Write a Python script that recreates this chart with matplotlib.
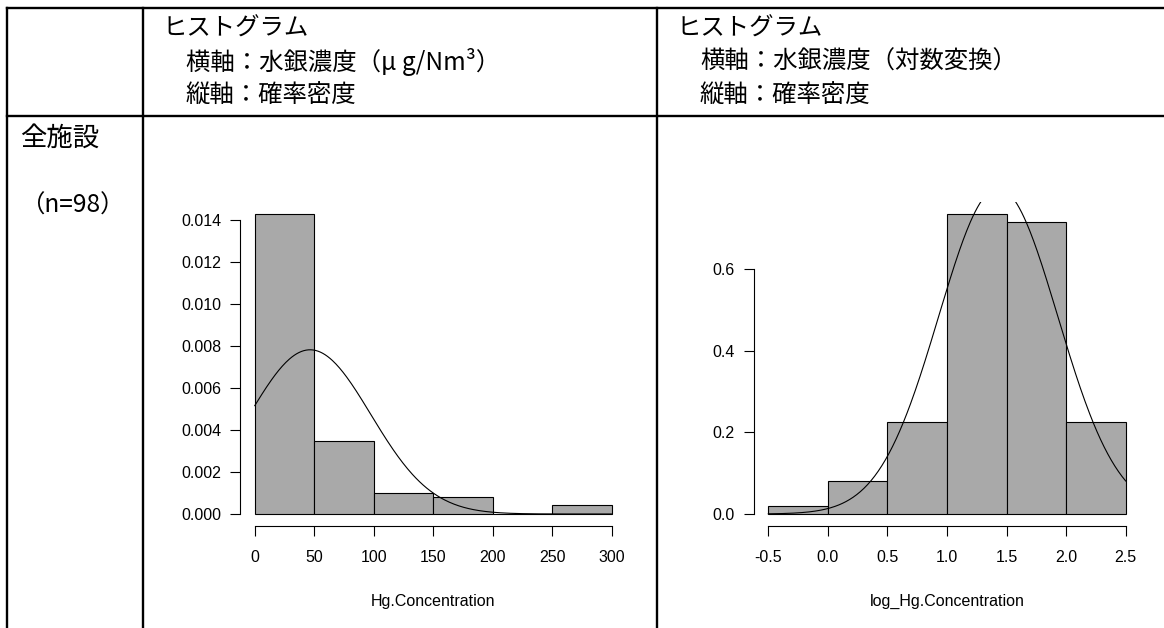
import numpy as np
import matplotlib
matplotlib.use("Agg")
import matplotlib.pyplot as plt

# histogram data (density), n = 98
conc_edges = [0, 50, 100, 150, 200, 250, 300]
conc_density = [0.01429, 0.00347, 0.00102, 0.00082, 0.0, 0.00041]
conc_mean, conc_sd = 46.5, 51.0
conc_yticks = [0.0, 0.002, 0.004, 0.006, 0.008, 0.010, 0.012, 0.014]

log_edges = [-0.5, 0.0, 0.5, 1.0, 1.5, 2.0, 2.5]
log_density = [0.0204, 0.0816, 0.2245, 0.7347, 0.7143, 0.2245]
log_mean, log_sd = 1.43, 0.5
log_yticks = [0.0, 0.2, 0.4, 0.6]

header_left = ["ヒストグラム", "横軸：水銀濃度（μ g/Nm³）", "縦軸：確率密度"]
header_right = ["ヒストグラム", "横軸：水銀濃度（対数変換）", "縦軸：確率密度"]
row_label = ["全施設", "（n=98）"]

W, H = 1164, 628
JP = ["Noto Sans CJK JP", "DejaVu Sans"]
NUM = "Liberation Sans"
BAR_COLOR = "#A9A9A9"

fig = plt.figure(figsize=(W / 100, H / 100), dpi=100)
fig.patch.set_facecolor("white")

# table frame in pixel coordinates
bg = fig.add_axes([0, 0, 1, 1])
bg.set_xlim(0, W)
bg.set_ylim(H, 0)
bg.axis("off")
lw = 1.7
bg.plot([7, W], [8, 8], color="black", lw=lw)
bg.plot([7, W], [116, 116], color="black", lw=lw)
for x in [7, 143, 657]:
    bg.plot([x, x], [8, H], color="black", lw=lw)

for i, txt in enumerate(header_left):
    bg.text(162 if i == 0 else 186, 29 + i * 33, txt, family=JP, fontsize=17.6,
            va="center", ha="left")
for i, txt in enumerate(header_right):
    bg.text(676 if i == 0 else 700, 29 + i * 33, txt, family=JP, fontsize=17.6,
            va="center", ha="left")
bg.text(20, 138, row_label[0], family=JP, fontsize=19, va="center", ha="left")
bg.text(20, 206, row_label[1], family=JP, fontsize=17.6, va="center", ha="left")


def npdf(x, m, s):
    return np.exp(-(x - m) ** 2 / (2 * s ** 2)) / (s * np.sqrt(2 * np.pi))


def hist_panel(rect, edges, dens, mean, sd, yticks, yfmt, xfmt, xlabel):
    ax = fig.add_axes(rect)
    edges = np.array(edges)
    ax.bar(edges[:-1], dens, width=np.diff(edges), align="edge",
           color=BAR_COLOR, edgecolor="black", linewidth=0.8)
    xs = np.linspace(edges[0], edges[-1], 300)
    ax.plot(xs, npdf(xs, mean, sd), color="black", lw=0.8)

    span = edges[-1] - edges[0]
    ax.set_xlim(edges[0] - 0.04 * span, edges[-1] + 0.04 * span)
    top = max(dens)
    ax.set_ylim(-0.04 * top, 1.04 * top)

    ax.set_xticks(edges)
    ax.set_xticklabels([xfmt.format(v) for v in edges])
    ax.set_yticks(yticks)
    ax.set_yticklabels([yfmt.format(v) for v in yticks])
    for lab in ax.get_xticklabels() + ax.get_yticklabels():
        lab.set_family(NUM)
        lab.set_fontsize(11.5)
    ax.tick_params(axis="both", direction="out", length=7, width=0.8, colors="black")
    ax.tick_params(axis="y", pad=7)
    ax.tick_params(axis="x", pad=10)

    for side in ["top", "right"]:
        ax.spines[side].set_visible(False)
    ax.spines["left"].set_bounds(yticks[0], yticks[-1])
    ax.spines["bottom"].set_bounds(edges[0], edges[-1])
    ax.spines["left"].set_linewidth(0.8)
    ax.spines["bottom"].set_linewidth(0.8)
    ax.patch.set_alpha(0)
    ax.set_xlabel(xlabel, family=NUM, fontsize=11.5, labelpad=21)
    return ax


top_px, bot_px = 202, 526
hist_panel([240.5 / W, 1 - bot_px / H, 385.5 / W, (bot_px - top_px) / H],
           conc_edges, conc_density, conc_mean, conc_sd, conc_yticks,
           "{:.3f}", "{:.0f}", "Hg.Concentration")
hist_panel([754 / W, 1 - bot_px / H, 386 / W, (bot_px - top_px) / H],
           log_edges, log_density, log_mean, log_sd, log_yticks,
           "{:.1f}", "{:.1f}", "log_Hg.Concentration")

fig.savefig("out.png", dpi=100)
